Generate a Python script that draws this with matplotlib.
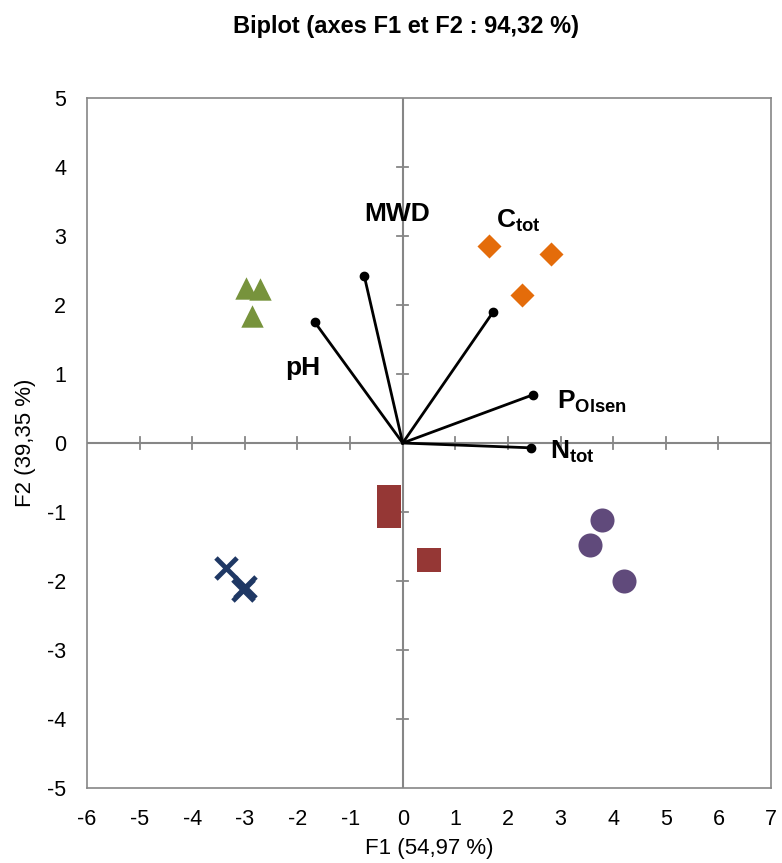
import matplotlib
matplotlib.use("Agg")
import matplotlib.pyplot as plt
import numpy as np

plt.rcParams['font.family'] = ['Liberation Sans', 'DejaVu Sans']
plt.rcParams['axes.unicode_minus'] = False
plt.rcParams['mathtext.fontset'] = 'custom'
plt.rcParams['mathtext.rm'] = 'Liberation Sans'
plt.rcParams['mathtext.bf'] = 'Liberation Sans:bold'

# observations (F1, F2) per group
tri_x = [-2.98, -2.71, -2.87]
tri_y = [2.25, 2.23, 1.84]
dia_x = [1.64, 2.82, 2.27]
dia_y = [2.86, 2.74, 2.14]
sq_x = [-0.26, -0.26, 0.50]
sq_y = [-0.78, -1.06, -1.70]
cross_x = [-3.36, -3.04, -3.00]
cross_y = [-1.81, -2.13, -2.08]
circ_x = [3.79, 3.56, 4.21]
circ_y = [-1.12, -1.48, -2.00]

# variables
var_names = ['pH', 'MWD', r'$\mathbf{C_{tot}}$', r'$\mathbf{P_{Olsen}}$', r'$\mathbf{N_{tot}}$']
var_x = [-1.67, -0.73, 1.72, 2.48, 2.44]
var_y = [1.75, 2.42, 1.90, 0.70, -0.07]
lab_x = [-1.90, -0.10, 2.20, 3.60, 3.23]
lab_y = [1.08, 3.32, 3.22, 0.60, -0.13]

fig = plt.figure(figsize=(7.82, 8.63), dpi=100)
ax = fig.add_axes([87 / 782, 1 - 788 / 863, 684 / 782, 690 / 863])

ax.set_xlim(-6, 7)
ax.set_ylim(-5, 5)

grey = '#868686'
for s in ax.spines.values():
    s.set_color(grey)
    s.set_linewidth(1.2)

ax.axhline(0, color=grey, lw=1.5, zorder=1)
ax.axvline(0, color=grey, lw=1.5, zorder=1)
# crossing tick marks on the zero axes
for t in range(-5, 7):
    if t != 0:
        ax.plot([t, t], [-0.08, 0.08], color=grey, lw=1.3, zorder=1)
for t in range(-4, 5):
    if t != 0:
        ax.plot([-0.11, 0.11], [t, t], color=grey, lw=1.3, zorder=1)

ax.set_xticks(range(-6, 8))
ax.set_yticks(range(-5, 6))
ax.tick_params(length=0, labelsize=15.5)
ax.tick_params(axis='x', pad=15)
ax.tick_params(axis='y', pad=15)

ax.scatter(tri_x, tri_y, marker='^', s=260, color='#77933C', zorder=3, linewidths=0)
ax.scatter(dia_x, dia_y, marker='D', s=150, color='#E46C0A', zorder=3, linewidths=0)
ax.scatter(sq_x, sq_y, marker='s', s=300, color='#953735', zorder=3, linewidths=0)
ax.scatter(cross_x, cross_y, marker='x', s=230, color='#1F3864', zorder=3, linewidths=3.5)
ax.scatter(circ_x, circ_y, marker='o', s=300, color='#604A7B', zorder=3, linewidths=0)

for vx, vy in zip(var_x, var_y):
    ax.plot([0, vx], [0, vy], color='black', lw=2, zorder=4)
    ax.plot(vx, vy, 'o', color='black', ms=6, zorder=4)

for name, x, y in zip(var_names, lab_x, lab_y):
    ax.text(x, y, name, fontsize=19, fontweight='bold', ha='center', va='center', zorder=5)

ax.set_xlabel('F1 (54,97 %)', fontsize=16, labelpad=6)
ax.set_ylabel('F2 (39,35 %)', fontsize=16, labelpad=8)

fig.text(406 / 782, 1 - 26 / 863, 'Biplot (axes F1 et F2 : 94,32 %)', fontsize=17,
         fontweight='bold', ha='center', va='center')

fig.savefig('out.png', dpi=100)
